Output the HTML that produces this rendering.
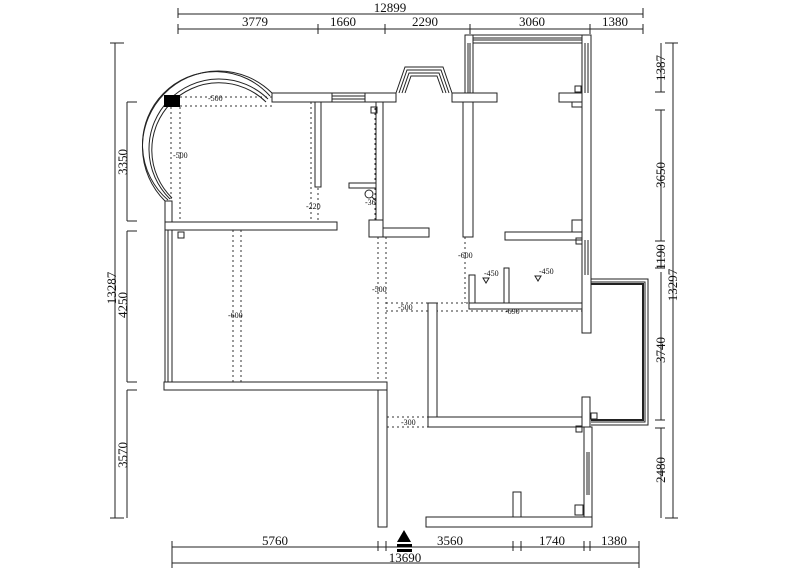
<!DOCTYPE html>
<html><head><meta charset="utf-8"><style>
html,body{margin:0;padding:0;background:#fff;}
svg{display:block;}
text{font-family:"Liberation Serif",serif;fill:#111;}
.w{fill:#fff;stroke:#222;stroke-width:1;}
.d{stroke:#333;stroke-width:1;stroke-dasharray:2,3;fill:none;}
.l{stroke:#222;stroke-width:1;fill:none;}
.s{font-size:8px;font-family:"Liberation Sans",sans-serif;}
.dim{font-size:13px;}
</style></head><body>
<svg width="800" height="569" viewBox="0 0 800 569" xmlns="http://www.w3.org/2000/svg">
<!-- top dimensions -->
<g class="l">
<line x1="178" y1="14" x2="643" y2="14"/><line x1="178" y1="8" x2="178" y2="18"/><line x1="643" y1="8" x2="643" y2="18"/>
<line x1="178" y1="29" x2="643" y2="29"/>
<line x1="178" y1="24" x2="178" y2="34"/><line x1="318" y1="24" x2="318" y2="34"/><line x1="385" y1="24" x2="385" y2="34"/>
<line x1="470" y1="24" x2="470" y2="34"/><line x1="590" y1="24" x2="590" y2="34"/><line x1="643" y1="24" x2="643" y2="34"/>
</g>
<text class="dim" x="390" y="12" text-anchor="middle">12899</text>
<text class="dim" x="255" y="26" text-anchor="middle">3779</text>
<text class="dim" x="343" y="26" text-anchor="middle">1660</text>
<text class="dim" x="425" y="26" text-anchor="middle">2290</text>
<text class="dim" x="532" y="26" text-anchor="middle">3060</text>
<text class="dim" x="615" y="26" text-anchor="middle">1380</text>
<!-- left dims -->
<g class="l">
<line x1="115" y1="43" x2="115" y2="518"/><line x1="110" y1="43" x2="124" y2="43"/><line x1="110" y1="518" x2="124" y2="518"/>
<line x1="127" y1="102" x2="127" y2="221"/><line x1="127" y1="231" x2="127" y2="382"/><line x1="127" y1="390" x2="127" y2="518"/>
<line x1="127" y1="102" x2="137" y2="102"/><line x1="127" y1="221" x2="137" y2="221"/><line x1="127" y1="231" x2="137" y2="231"/>
<line x1="127" y1="382" x2="137" y2="382"/><line x1="127" y1="390" x2="137" y2="390"/>
</g>
<text class="dim" transform="translate(127,162) rotate(-90)" text-anchor="middle">3350</text>
<text class="dim" transform="translate(127,305) rotate(-90)" text-anchor="middle">4250</text>
<text class="dim" transform="translate(127,455) rotate(-90)" text-anchor="middle">3570</text>
<text class="dim" transform="translate(116,288) rotate(-90)" text-anchor="middle">13287</text>
<!-- right dims -->
<g class="l">
<line x1="673" y1="43" x2="673" y2="518"/><line x1="665" y1="43" x2="678" y2="43"/><line x1="665" y1="518" x2="678" y2="518"/>
<line x1="661" y1="43" x2="661" y2="92"/><line x1="661" y1="110" x2="661" y2="241"/><line x1="661" y1="245" x2="661" y2="268"/>
<line x1="661" y1="272" x2="661" y2="420"/><line x1="661" y1="428" x2="661" y2="518"/>
<line x1="655" y1="92" x2="665" y2="92"/><line x1="655" y1="110" x2="665" y2="110"/><line x1="655" y1="241" x2="665" y2="241"/>
<line x1="655" y1="268" x2="665" y2="268"/><line x1="655" y1="420" x2="665" y2="420"/><line x1="655" y1="428" x2="665" y2="428"/>
</g>
<text class="dim" transform="translate(665,68) rotate(-90)" text-anchor="middle">1387</text>
<text class="dim" transform="translate(665,175) rotate(-90)" text-anchor="middle">3650</text>
<text class="dim" transform="translate(665,257) rotate(-90)" text-anchor="middle">1190</text>
<text class="dim" transform="translate(665,350) rotate(-90)" text-anchor="middle">3740</text>
<text class="dim" transform="translate(665,470) rotate(-90)" text-anchor="middle">2480</text>
<text class="dim" transform="translate(677,285) rotate(-90)" text-anchor="middle">13297</text>
<!-- bottom dims -->
<g class="l">
<line x1="172" y1="547" x2="639" y2="547"/><line x1="172" y1="563" x2="639" y2="563"/>
<line x1="172" y1="541" x2="172" y2="568"/><line x1="378" y1="541" x2="378" y2="551"/><line x1="386" y1="541" x2="386" y2="551"/>
<line x1="513" y1="541" x2="513" y2="551"/><line x1="521" y1="541" x2="521" y2="551"/><line x1="584" y1="541" x2="584" y2="551"/>
<line x1="590" y1="541" x2="590" y2="551"/><line x1="639" y1="541" x2="639" y2="568"/>
</g>
<text class="dim" x="275" y="545" text-anchor="middle">5760</text>
<text class="dim" x="450" y="545" text-anchor="middle">3560</text>
<text class="dim" x="552" y="545" text-anchor="middle">1740</text>
<text class="dim" x="614" y="545" text-anchor="middle">1380</text>
<text class="dim" x="405" y="562" text-anchor="middle">13690</text>
<polygon points="404,530 397,542 411,542" fill="#000"/>
<rect x="397" y="544" width="15" height="3" fill="#000"/><rect x="397" y="549" width="15" height="3" fill="#000"/>

<!-- dashed lines -->
<g class="d">
<line x1="180" y1="97" x2="272" y2="97"/><line x1="180" y1="106" x2="272" y2="106"/>
<line x1="171" y1="107" x2="171" y2="222"/><line x1="180" y1="107" x2="180" y2="222"/>
<line x1="311" y1="102" x2="311" y2="222"/><line x1="318" y1="188" x2="318" y2="222"/>
<line x1="375" y1="108" x2="375" y2="220"/>
<line x1="233" y1="230" x2="233" y2="382"/><line x1="241" y1="230" x2="241" y2="382"/>
<line x1="378" y1="237" x2="378" y2="382"/><line x1="386" y1="237" x2="386" y2="382"/>
<line x1="465" y1="237" x2="465" y2="303"/>
<line x1="386" y1="303" x2="468" y2="303"/><line x1="386" y1="311" x2="582" y2="311"/>
<line x1="387" y1="417" x2="428" y2="417"/><line x1="387" y1="427" x2="428" y2="427"/>
</g>
<g class="s">
<text x="208" y="101">-500</text><text x="173" y="158">-500</text>
<text x="306" y="209">-220</text><text x="365" y="205">-360</text>
<text x="228" y="318">-600</text><text x="372" y="292">-500</text>
<text x="458" y="258">-600</text><text x="398" y="310">-500</text>
<text x="505" y="314">-690</text><text x="401" y="425">-300</text>
<text x="484" y="276">-450</text><text x="539" y="274">-450</text>
</g>
<g class="l"><polygon points="483,278 489,278 486,283"/><polygon points="535,276 541,276 538,281"/>
<circle cx="369" cy="194" r="4"/><line x1="372" y1="197" x2="376" y2="201"/></g>

<!-- bay arc -->
<g class="l">
<path d="M272,93 A76,76 0 1 0 165,201"/>
<path d="M270,96 A73,73 0 1 0 168,200"/>
<path d="M268,99 A70,70 0 1 0 170,199"/>
<path d="M266,102 A67,67 0 1 0 172,198"/>
</g>
<rect x="164" y="95" width="16" height="12" fill="#000"/>

<!-- walls -->
<g class="w">
<rect x="272" y="93" width="60" height="9"/>
<rect x="332" y="93" width="33" height="9"/>
<rect x="365" y="93" width="31" height="9"/>
<rect x="315" y="102" width="6" height="85"/>
<rect x="165" y="201" width="7" height="29"/>
<rect x="165" y="222" width="172" height="8"/>
<rect x="165" y="230" width="7" height="152"/>
<rect x="349" y="183" width="33" height="5"/>
<rect x="376" y="102" width="7" height="118"/>
<rect x="369" y="220" width="14" height="17"/>
<rect x="383" y="228" width="46" height="9"/>
<rect x="463" y="102" width="10" height="135"/>
<rect x="452" y="93" width="45" height="9"/>
<rect x="465" y="35" width="8" height="58"/>
<rect x="473" y="35" width="109" height="8"/>
<rect x="582" y="35" width="9" height="298"/>
<rect x="559" y="93" width="23" height="9"/>
<rect x="572" y="102" width="10" height="5"/>
<rect x="505" y="232" width="77" height="8"/>
<rect x="572" y="220" width="10" height="12"/>
<rect x="469" y="275" width="6" height="30"/>
<rect x="504" y="268" width="5" height="37"/>
<rect x="469" y="303" width="113" height="6"/>
<rect x="164" y="382" width="223" height="8"/>
<rect x="378" y="390" width="9" height="137"/>
<rect x="428" y="303" width="9" height="124"/>
<rect x="428" y="417" width="162" height="10"/>
<rect x="582" y="397" width="8" height="30"/>
<rect x="584" y="427" width="8" height="100"/>
<rect x="426" y="517" width="166" height="10"/>
<rect x="513" y="492" width="8" height="25"/>
</g>
<!-- window lines -->
<g class="l">
<line x1="473" y1="38" x2="582" y2="38"/><line x1="473" y1="40" x2="582" y2="40"/>
<line x1="468" y1="43" x2="468" y2="93"/><line x1="470" y1="43" x2="470" y2="93"/>
<line x1="585" y1="43" x2="585" y2="93"/><line x1="588" y1="43" x2="588" y2="93"/>
<line x1="332" y1="96" x2="365" y2="96"/><line x1="332" y1="99" x2="365" y2="99"/>
<line x1="168" y1="230" x2="168" y2="382"/>
<line x1="585" y1="240" x2="585" y2="275"/><line x1="588" y1="240" x2="588" y2="275"/>
<line x1="587" y1="452" x2="587" y2="495"/><line x1="589" y1="452" x2="589" y2="495"/>
<!-- bay window -->
<polyline points="396,93 405,67 443,67 452,93"/>
<polyline points="399,93 407,70 441,70 449,93"/>
<polyline points="402,93 409,73 439,73 446,93"/>
<polyline points="405,93 411,76 437,76 443,93"/>
<!-- east balcony -->
<polyline points="591,279 648,279 648,425 591,425"/>
<polyline points="591,282 645,282 645,422 591,422"/>
<polyline points="591,284 643,284 643,420 591,420" stroke-width="2"/>
<rect x="575" y="505" width="8" height="10"/>
</g>
<g class="l" stroke-width="0.8">
<rect x="178" y="232" width="6" height="6"/><rect x="371" y="107" width="6" height="6"/>
<rect x="575" y="86" width="6" height="6"/><rect x="576" y="238" width="6" height="6"/>
<rect x="591" y="413" width="6" height="6"/><rect x="576" y="426" width="6" height="6"/>
</g>
</svg>
</body></html>
